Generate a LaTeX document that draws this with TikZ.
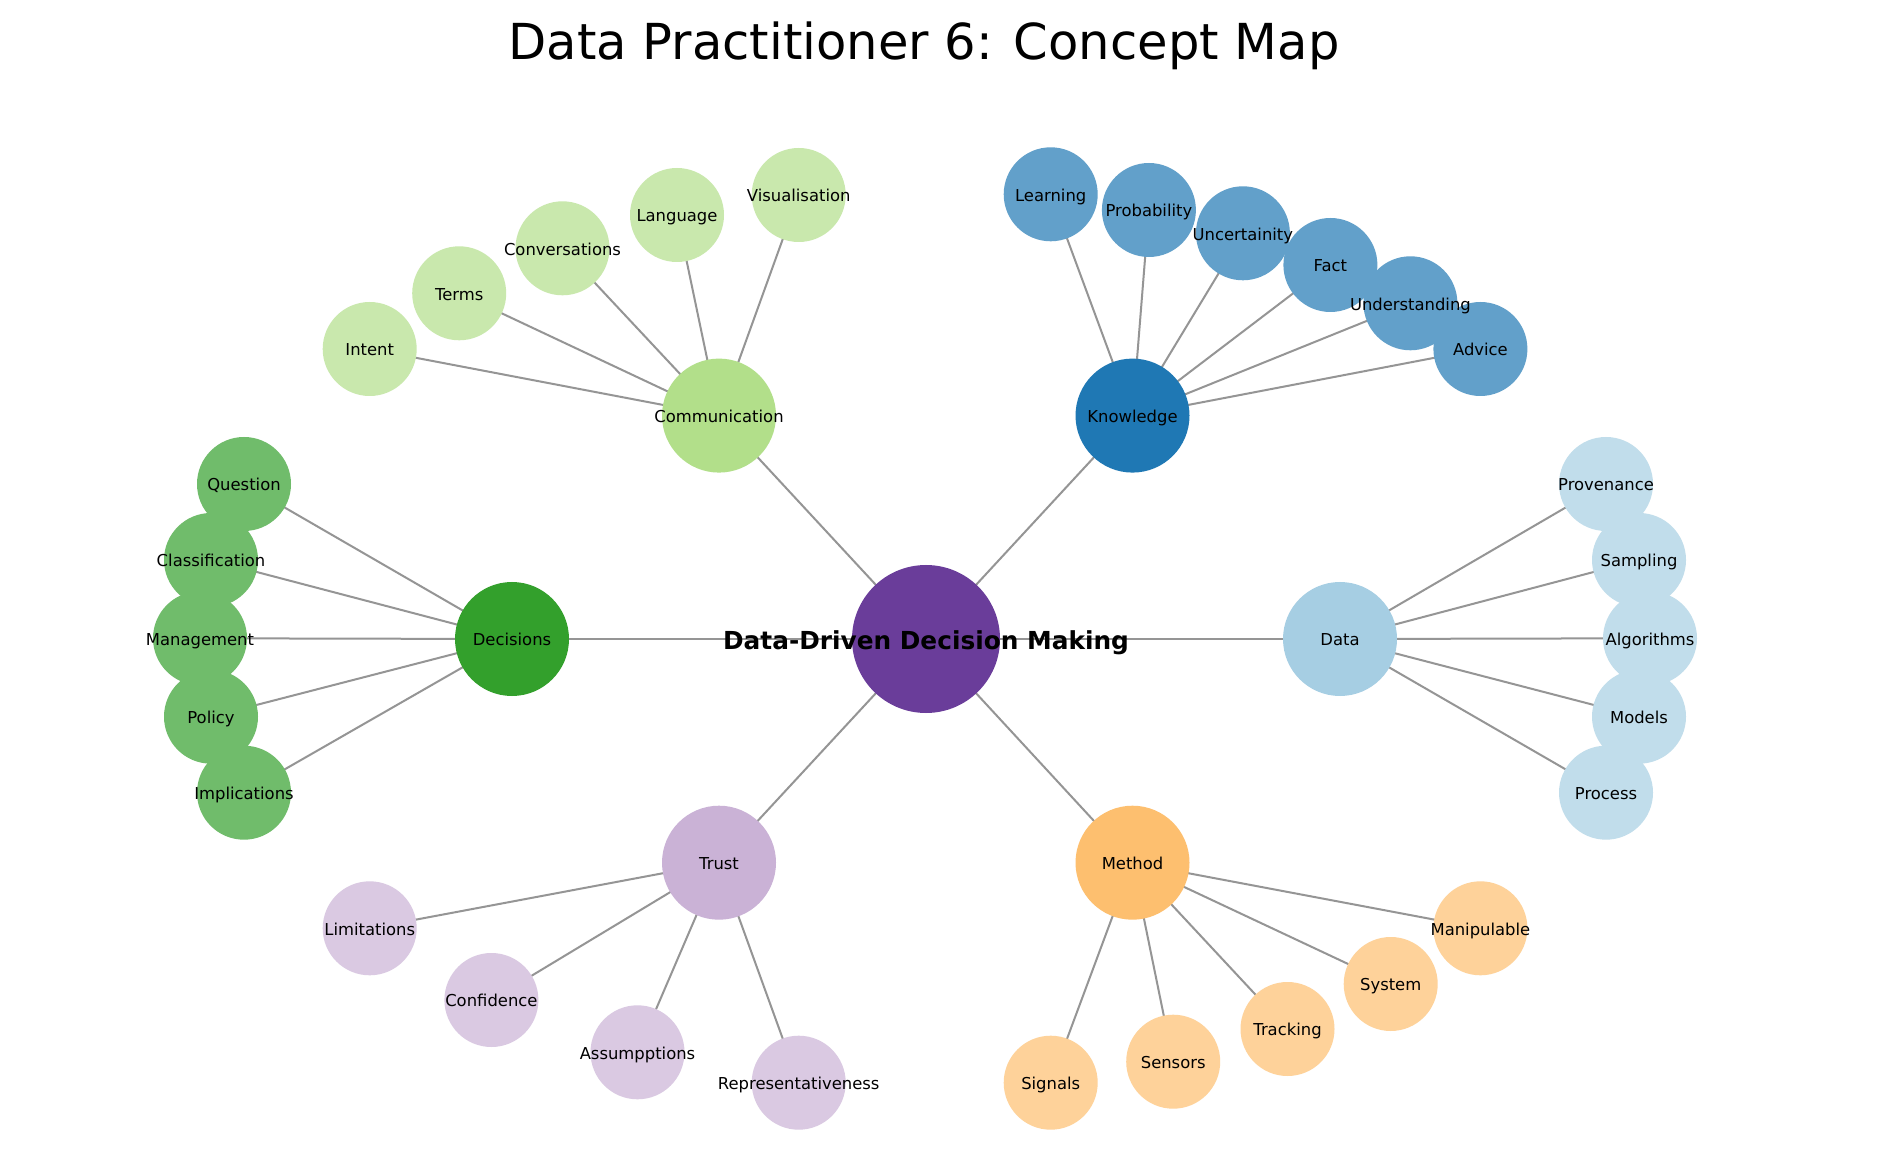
\documentclass[tikz,border=0pt]{standalone}
\usepackage{fontspec}
\setmainfont{DejaVu Sans}
\usetikzlibrary{backgrounds}
\pgfdeclarelayer{canvas}
\pgfsetlayers{canvas,background,main}
\definecolor{cmid}{HTML}{6A3D9A}
\definecolor{comH}{HTML}{B2DF8A}\definecolor{comL}{HTML}{C9E8AD}
\definecolor{knoH}{HTML}{1F78B4}\definecolor{knoL}{HTML}{62A0CA}
\definecolor{decH}{HTML}{33A02C}\definecolor{decL}{HTML}{70BC6B}
\definecolor{datH}{HTML}{A6CEE3}\definecolor{datL}{HTML}{C1DDEB}
\definecolor{truH}{HTML}{CAB2D6}\definecolor{truL}{HTML}{DAC9E2}
\definecolor{metH}{HTML}{FDBF6F}\definecolor{metL}{HTML}{FED29A}
\definecolor{edgec}{HTML}{959595}
\tikzset{
  disc/.style={circle, inner sep=0pt, draw=none},
  centerdisc/.style={disc, minimum size=74pt, fill=cmid},
  hubdisc/.style={disc, minimum size=57pt},
  leafdisc/.style={disc, minimum size=47pt},
  lbl/.style={inner sep=0pt, yshift=-1.1pt, font=\fontsize{8.2}{9}\selectfont, text height=6.23pt, text depth=1.71pt, text=black},
  biglbl/.style={inner sep=0pt, yshift=-1.6pt, font=\fontsize{12.4}{14}\selectfont\bfseries, text height=9.42pt, text depth=2.58pt, text=black},
  conn/.style={draw=edgec, line width=1pt},
}
\begin{document}
\begin{tikzpicture}[x=0.5pt, y=-0.5pt]
\begin{pgfonlayer}{canvas}
\fill[white] (0,0) rectangle (1894,1159);
\end{pgfonlayer}
\useasboundingbox (0,0) rectangle (1894,1159);
\node[anchor=base, inner sep=0pt, font=\fontsize{24.8}{28}\selectfont] (title) at (924,60) {Data Practitioner 6: Concept Map};
% discs
\node[centerdisc] (ddm) at (926,639) {};
\node[hubdisc, fill=comH] (com) at (719,415.6) {};
\node[hubdisc, fill=knoH] (kno) at (1132.5,415.6) {};
\node[hubdisc, fill=decH] (dec) at (512,639) {};
\node[hubdisc, fill=datH] (dat) at (1340,639) {};
\node[hubdisc, fill=truH] (tru) at (719,862.7) {};
\node[hubdisc, fill=metH] (met) at (1132.5,862.7) {};
% communication leaves
\node[leafdisc, fill=comL] (intent) at (369.7,349) {};
\node[leafdisc, fill=comL] (terms) at (459.2,293.3) {};
\node[leafdisc, fill=comL] (conv) at (562.5,248.3) {};
\node[leafdisc, fill=comL] (lang) at (677,215) {};
\node[leafdisc, fill=comL] (visu) at (798.7,195) {};
% knowledge leaves
\node[leafdisc, fill=knoL] (learn) at (1050.7,194.3) {};
\node[leafdisc, fill=knoL] (prob) at (1148.9,210) {};
\node[leafdisc, fill=knoL] (unc) at (1242.9,233.3) {};
\node[leafdisc, fill=knoL] (fact) at (1330.4,265) {};
\node[leafdisc, fill=knoL] (under) at (1410.4,303.3) {};
\node[leafdisc, fill=knoL] (advice) at (1480.4,349) {};
% decisions leaves
\node[leafdisc, fill=decL] (quest) at (244,484) {};
\node[leafdisc, fill=decL] (classi) at (211,560) {};
\node[leafdisc, fill=decL] (manag) at (200,638.3) {};
\node[leafdisc, fill=decL] (policy) at (211,716.7) {};
\node[leafdisc, fill=decL] (impl) at (244,792.7) {};
% data leaves
\node[leafdisc, fill=datL] (prov) at (1606,484) {};
\node[leafdisc, fill=datL] (samp) at (1639,560) {};
\node[leafdisc, fill=datL] (algo) at (1650,638.3) {};
\node[leafdisc, fill=datL] (models) at (1639,716.7) {};
\node[leafdisc, fill=datL] (proc) at (1606,792.7) {};
% trust leaves
\node[leafdisc, fill=truL] (limit) at (369.7,928.3) {};
\node[leafdisc, fill=truL] (conf) at (491.4,1000) {};
\node[leafdisc, fill=truL] (assu) at (637.5,1052.3) {};
\node[leafdisc, fill=truL] (repr) at (798.7,1082.7) {};
% method leaves
\node[leafdisc, fill=metL] (signals) at (1050.7,1082.7) {};
\node[leafdisc, fill=metL] (sensors) at (1173.2,1061.7) {};
\node[leafdisc, fill=metL] (track) at (1287.5,1029) {};
\node[leafdisc, fill=metL] (system) at (1390.7,984) {};
\node[leafdisc, fill=metL] (manip) at (1480.4,928.3) {};
% connectors
\begin{scope}[on background layer]
\foreach \h in {com,kno,dec,dat,tru,met} \draw[conn] (ddm.center) -- (\h.center);
\foreach \l in {intent,terms,conv,lang,visu} \draw[conn] (com.center) -- (\l.center);
\foreach \l in {learn,prob,unc,fact,under,advice} \draw[conn] (kno.center) -- (\l.center);
\foreach \l in {quest,classi,manag,policy,impl} \draw[conn] (dec.center) -- (\l.center);
\foreach \l in {prov,samp,algo,models,proc} \draw[conn] (dat.center) -- (\l.center);
\foreach \l in {limit,conf,assu,repr} \draw[conn] (tru.center) -- (\l.center);
\foreach \l in {signals,sensors,track,system,manip} \draw[conn] (met.center) -- (\l.center);
\end{scope}
% labels
\node[biglbl] (ddmt) at (ddm.center) {Data-Driven Decision Making};
\node[lbl] (comt) at (com.center) {Communication};
\node[lbl] (knot) at (kno.center) {Knowledge};
\node[lbl] (dect) at (dec.center) {Decisions};
\node[lbl] (datt) at (dat.center) {Data};
\node[lbl] (trut) at (tru.center) {Trust};
\node[lbl] (mett) at (met.center) {Method};
\node[lbl] at (intent.center) {Intent};
\node[lbl] at (terms.center) {Terms};
\node[lbl] at (conv.center) {Conversations};
\node[lbl] at (lang.center) {Language};
\node[lbl] at (visu.center) {Visualisation};
\node[lbl] at (learn.center) {Learning};
\node[lbl] at (prob.center) {Probability};
\node[lbl] at (unc.center) {Uncertainity};
\node[lbl] at (fact.center) {Fact};
\node[lbl] at (under.center) {Understanding};
\node[lbl] at (advice.center) {Advice};
\node[lbl] at (quest.center) {Question};
\node[lbl] at (classi.center) {Classification};
\node[lbl] at (manag.center) {Management};
\node[lbl] at (policy.center) {Policy};
\node[lbl] at (impl.center) {Implications};
\node[lbl] at (prov.center) {Provenance};
\node[lbl] at (samp.center) {Sampling};
\node[lbl] at (algo.center) {Algorithms};
\node[lbl] at (models.center) {Models};
\node[lbl] at (proc.center) {Process};
\node[lbl] at (limit.center) {Limitations};
\node[lbl] at (conf.center) {Confidence};
\node[lbl] at (assu.center) {Assumpptions};
\node[lbl] at (repr.center) {Representativeness};
\node[lbl] at (signals.center) {Signals};
\node[lbl] at (sensors.center) {Sensors};
\node[lbl] at (track.center) {Tracking};
\node[lbl] at (system.center) {System};
\node[lbl] at (manip.center) {Manipulable};
\end{tikzpicture}
\end{document}
